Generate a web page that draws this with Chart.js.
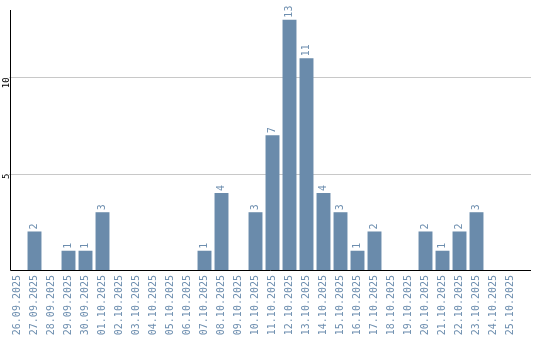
<!DOCTYPE html>
<html>
<head>
<meta charset="utf-8">
<script src="https://cdn.jsdelivr.net/npm/chart.js@4/dist/chart.umd.min.js"></script>
<style>
  html, body { margin: 0; padding: 0; background: #fff; }
  #wrap { width: 540px; height: 340px; }
</style>
</head>
<body>
<div id="wrap"><canvas id="chart" width="540" height="340"></canvas></div>
<script>
const days = [
  '26.09.2025', '27.09.2025', '28.09.2025', '29.09.2025', '30.09.2025',
  '01.10.2025', '02.10.2025', '03.10.2025', '04.10.2025', '05.10.2025',
  '06.10.2025', '07.10.2025', '08.10.2025', '09.10.2025', '10.10.2025',
  '11.10.2025', '12.10.2025', '13.10.2025', '14.10.2025', '15.10.2025',
  '16.10.2025', '17.10.2025', '18.10.2025', '19.10.2025', '20.10.2025',
  '21.10.2025', '22.10.2025', '23.10.2025', '24.10.2025', '25.10.2025'
];
const counts = [
  0, 2, 0, 1, 1, 3, 0, 0, 0, 0,
  0, 1, 4, 0, 3, 7, 13, 11, 4, 3,
  1, 2, 0, 0, 2, 1, 2, 3, 0, 0
];
const yTicks = [5, 10];

const barColor = '#6a8bab';
const textColor = '#6d8eaf';
const monoFont = '"DejaVu Sans Mono", monospace';

// value labels above the bars, written bottom-to-top
const barLabels = {
  id: 'barLabels',
  afterDatasetsDraw(chart) {
    const { ctx } = chart;
    const meta = chart.getDatasetMeta(0);
    ctx.save();
    ctx.font = '10px ' + monoFont;
    ctx.fillStyle = textColor;
    ctx.textAlign = 'left';
    ctx.textBaseline = 'middle';
    meta.data.forEach((bar, i) => {
      const v = counts[i];
      if (!v) return;
      ctx.save();
      ctx.translate(bar.x, bar.y - 2);
      ctx.rotate(-Math.PI / 2);
      ctx.fillText(String(v), 0, 0);
      ctx.restore();
    });
    ctx.restore();
  }
};

// gridlines and black axis lines run a bit past the last category
const axisLines = {
  id: 'axisLines',
  beforeDatasetsDraw(chart) {
    const { ctx, chartArea, scales } = chart;
    ctx.save();
    ctx.strokeStyle = '#c8c8c8';
    ctx.lineWidth = 1;
    yTicks.forEach((v) => {
      const y = Math.round(scales.y.getPixelForValue(v)) + 0.5;
      ctx.beginPath();
      ctx.moveTo(chartArea.left, y);
      ctx.lineTo(531, y);
      ctx.stroke();
    });
    ctx.restore();
  },
  afterDraw(chart) {
    const { ctx, chartArea } = chart;
    ctx.save();
    ctx.strokeStyle = '#000';
    ctx.lineWidth = 1;
    ctx.beginPath();
    ctx.moveTo(10.5, chartArea.top);
    ctx.lineTo(10.5, chartArea.bottom + 0.5);
    ctx.lineTo(531, chartArea.bottom + 0.5);
    ctx.stroke();
    ctx.restore();
  }
};

new Chart(document.getElementById('chart'), {
  type: 'bar',
  data: {
    labels: days,
    datasets: [{
      data: counts,
      backgroundColor: barColor,
      borderWidth: 0,
      barPercentage: 0.82,
      categoryPercentage: 1
    }]
  },
  options: {
    responsive: false,
    animation: false,
    layout: { padding: { top: 10, right: 21, left: 0, bottom: 0 } },
    plugins: {
      legend: { display: false },
      tooltip: { enabled: false }
    },
    scales: {
      x: {
        grid: { display: false, drawTicks: false },
        border: { display: false },
        afterFit: (scale) => { scale.height = 70; },
        ticks: {
          autoSkip: false,
          minRotation: 90,
          maxRotation: 90,
          padding: 5,
          color: textColor,
          font: { family: monoFont, size: 10 }
        }
      },
      y: {
        min: 0,
        max: 13.5,
        afterFit: (scale) => { scale.width = 9; },
        afterBuildTicks: (scale) => {
          scale.ticks = yTicks.map((value) => ({ value }));
        },
        grid: { display: false, drawTicks: false },
        border: { display: false },
        ticks: {
          minRotation: 90,
          maxRotation: 90,
          padding: 2,
          color: '#000',
          font: { family: monoFont, size: 9 }
        }
      }
    }
  },
  plugins: [barLabels, axisLines]
});
</script>
</body>
</html>
